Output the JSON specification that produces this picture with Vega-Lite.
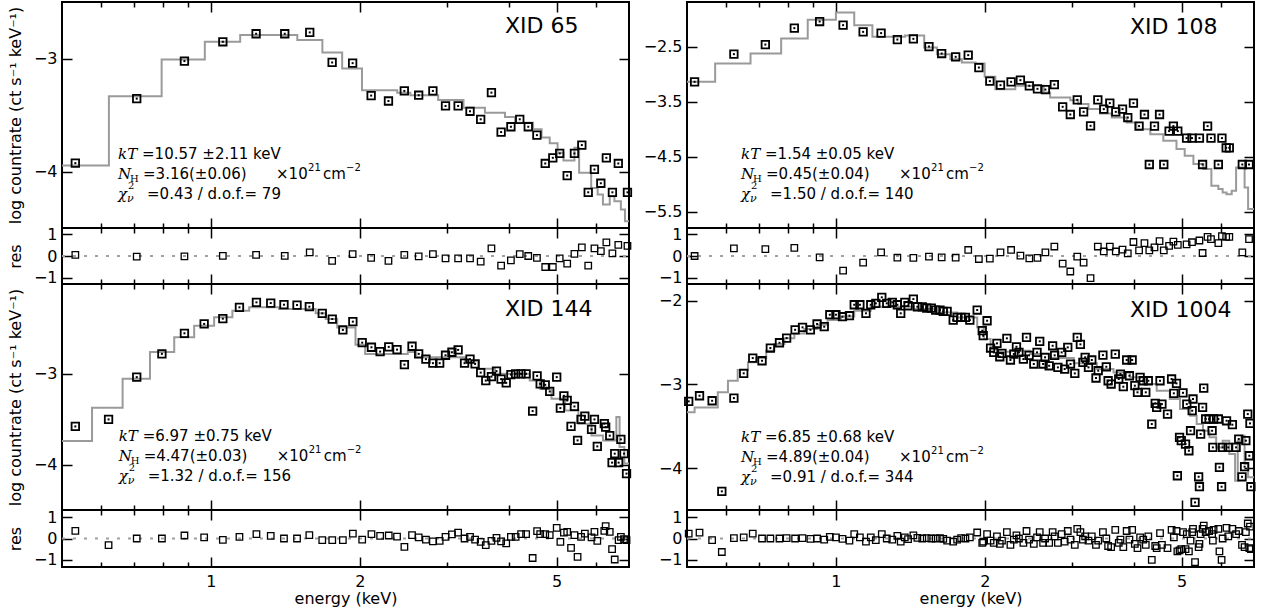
{
"$schema": "https://vega.github.io/schema/vega-lite/v6.json",
"padding": {"left": 6, "top": 0, "right": 8, "bottom": 6},
"background": "white",
"config": {
  "view": {"stroke": "black", "strokeWidth": 2},
  "axis": {"grid": false, "domain": false, "labels": false, "tickSize": -10, "tickColor": "black", "tickWidth": 1.5, "labelFont": "DejaVu Sans", "labelFontSize": 16, "labelColor": "black", "titleFont": "DejaVu Sans", "titleFontSize": 16, "titleFontWeight": "normal", "titleColor": "black"},
  "text": {"font": "DejaVu Sans", "fontSize": 15, "align": "left", "baseline": "middle", "color": "black"}
},
"datasets": {
"d65": [{"E":0.532,"y":-3.926,"r":0.05},{"E":0.708,"y":-3.355,"r":-0.03},{"E":0.884,"y":-3.023,"r":-0.02},{"E":1.057,"y":-2.852,"r":0.01},{"E":1.234,"y":-2.781,"r":0.05},{"E":1.41,"y":-2.781,"r":0.01},{"E":1.584,"y":-2.769,"r":0.17},{"E":1.758,"y":-3.035,"r":-0.23},{"E":1.934,"y":-3.041,"r":0.09},{"E":2.108,"y":-3.328,"r":-0.09},{"E":2.285,"y":-3.376,"r":-0.23},{"E":2.46,"y":-3.287,"r":0.05},{"E":2.63,"y":-3.325,"r":-0.02},{"E":2.81,"y":-3.287,"r":0.09},{"E":2.98,"y":-3.42,"r":-0.11},{"E":3.16,"y":-3.42,"r":-0.11},{"E":3.34,"y":-3.467,"r":-0.11},{"E":3.51,"y":-3.538,"r":-0.26},{"E":3.69,"y":-3.302,"r":0.35},{"E":3.86,"y":-3.651,"r":-0.45},{"E":4.04,"y":-3.604,"r":-0.2},{"E":4.21,"y":-3.538,"r":0.09},{"E":4.38,"y":-3.604,"r":0.0},{"E":4.56,"y":-3.678,"r":-0.09},{"E":4.74,"y":-3.929,"r":-0.51},{"E":4.91,"y":-3.879,"r":-0.51},{"E":5.07,"y":-3.84,"r":-0.11},{"E":5.25,"y":-4.036,"r":-0.35},{"E":5.43,"y":-3.84,"r":0.1},{"E":5.62,"y":-3.766,"r":0.4},{"E":5.79,"y":-4.184,"r":-0.45},{"E":5.96,"y":-3.982,"r":0.35},{"E":6.14,"y":-4.104,"r":0.23},{"E":6.3,"y":-3.879,"r":0.63},{"E":6.48,"y":-4.184,"r":0.12},{"E":6.66,"y":-3.929,"r":0.52},{"E":6.95,"y":-4.184,"r":0.47}],
"m65": [{"E":0.5,"y":-3.947},{"E":0.622,"y":-3.334},{"E":0.795,"y":-3.009},{"E":0.972,"y":-2.852},{"E":1.146,"y":-2.792},{"E":1.495,"y":-2.837},{"E":1.68,"y":-2.947},{"E":1.842,"y":-3.089},{"E":2.02,"y":-3.281},{"E":2.38,"y":-3.302},{"E":2.53,"y":-3.325},{"E":2.88,"y":-3.367},{"E":3.24,"y":-3.435},{"E":3.58,"y":-3.48},{"E":3.93,"y":-3.518},{"E":4.12,"y":-3.568},{"E":4.48,"y":-3.627},{"E":4.66,"y":-3.7},{"E":4.84,"y":-3.75},{"E":5.02,"y":-3.835},{"E":5.16,"y":-3.902},{"E":5.43,"y":-3.79},{"E":5.55,"y":-4.012},{"E":5.87,"y":-4.146},{"E":6.05,"y":-4.204},{"E":6.2,"y":-4.293},{"E":6.4,"y":-4.22},{"E":6.54,"y":-4.264},{"E":6.74,"y":-4.337},{"E":6.87,"y":-4.44},{"E":7.0,"y":-4.44}],
"d108": [{"E":0.518,"y":-3.142,"r":0},{"E":0.622,"y":-2.638,"r":0.35},{"E":0.72,"y":-2.464,"r":0.32},{"E":0.824,"y":-2.165,"r":0.38},{"E":0.927,"y":-2.045,"r":-0.06},{"E":1.034,"y":-2.111,"r":-0.68},{"E":1.135,"y":-2.233,"r":-0.31},{"E":1.234,"y":-2.256,"r":0.17},{"E":1.331,"y":-2.373,"r":-0.08},{"E":1.434,"y":-2.36,"r":-0.09},{"E":1.542,"y":-2.5,"r":-0.03},{"E":1.636,"y":-2.627,"r":-0.06},{"E":1.746,"y":-2.687,"r":-0.08},{"E":1.851,"y":-2.656,"r":0.28},{"E":1.945,"y":-2.882,"r":-0.14},{"E":2.047,"y":-3.129,"r":-0.12},{"E":2.151,"y":-3.202,"r":0.17},{"E":2.26,"y":-3.142,"r":0.28},{"E":2.36,"y":-3.111,"r":0.02},{"E":2.46,"y":-3.215,"r":-0.11},{"E":2.555,"y":-3.269,"r":-0.09},{"E":2.651,"y":-3.282,"r":0.17},{"E":2.764,"y":-3.191,"r":0.44},{"E":2.873,"y":-3.596,"r":-0.35},{"E":2.977,"y":-3.736,"r":-0.72},{"E":3.075,"y":-3.469,"r":-0.03},{"E":3.167,"y":-3.687,"r":-0.31},{"E":3.271,"y":-3.942,"r":-1.03},{"E":3.384,"y":-3.469,"r":0.44},{"E":3.479,"y":-3.638,"r":0.21},{"E":3.578,"y":-3.529,"r":0.44},{"E":3.679,"y":-3.687,"r":0.21},{"E":3.796,"y":-3.638,"r":0.3},{"E":3.89,"y":-3.791,"r":0.12},{"E":3.994,"y":-3.529,"r":0.65},{"E":4.1,"y":-3.947,"r":0.26},{"E":4.204,"y":-3.736,"r":0.6},{"E":4.3,"y":-4.645,"r":0.26},{"E":4.405,"y":-3.947,"r":0.4},{"E":4.51,"y":-3.736,"r":0.69},{"E":4.6,"y":-4.645,"r":0.26},{"E":4.715,"y":-4.038,"r":0.47},{"E":4.81,"y":-3.947,"r":0.67},{"E":4.91,"y":-4.038,"r":0.52},{"E":5.115,"y":-4.165,"r":0.54},{"E":5.245,"y":-4.165,"r":0.64},{"E":5.43,"y":-4.165,"r":0.72},{"E":5.51,"y":-4.645,"r":0.14},{"E":5.64,"y":-3.947,"r":0.89},{"E":5.73,"y":-4.165,"r":0.78},{"E":5.93,"y":-4.645,"r":0.6},{"E":6.03,"y":-4.165,"r":0.92},{"E":6.15,"y":-4.342,"r":0.89},{"E":6.24,"y":-4.342,"r":0.89},{"E":6.63,"y":-4.645,"r":0.17},{"E":6.84,"y":-4.645,"r":0.78}],
"m108": [{"E":0.5,"y":-3.142},{"E":0.57,"y":-2.809},{"E":0.672,"y":-2.627},{"E":0.775,"y":-2.355},{"E":0.877,"y":-2.015},{"E":1.0,"y":-1.882},{"E":1.089,"y":-2.111},{"E":1.185,"y":-2.324},{"E":1.38,"y":-2.3},{"E":1.508,"y":-2.518},{"E":1.6,"y":-2.638},{"E":1.703,"y":-2.729},{"E":1.797,"y":-2.791},{"E":1.916,"y":-2.809},{"E":1.998,"y":-3.051},{"E":2.1,"y":-3.275},{"E":2.305,"y":-3.215},{"E":2.63,"y":-3.336},{"E":2.71,"y":-3.427},{"E":2.977,"y":-3.475},{"E":3.09,"y":-3.547},{"E":3.24,"y":-3.638},{"E":3.42,"y":-3.718},{"E":3.61,"y":-3.791},{"E":3.87,"y":-3.882},{"E":4.05,"y":-4.002},{"E":4.32,"y":-4.093},{"E":4.59,"y":-4.215},{"E":4.88,"y":-4.365},{"E":5.07,"y":-4.487},{"E":5.28,"y":-4.638},{"E":5.53,"y":-4.729},{"E":5.74,"y":-5.033},{"E":5.93,"y":-5.093},{"E":6.05,"y":-5.155},{"E":6.16,"y":-5.184},{"E":6.31,"y":-5.124},{"E":6.44,"y":-4.7},{"E":6.7,"y":-5.064},{"E":6.81,"y":-5.456},{"E":7.0,"y":-5.456}],
"d144": [{"E":0.532,"y":-3.579,"r":0.36},{"E":0.621,"y":-3.502,"r":-0.31},{"E":0.708,"y":-3.036,"r":0},{"E":0.796,"y":-2.78,"r":0},{"E":0.884,"y":-2.553,"r":0.14},{"E":0.969,"y":-2.45,"r":0.05},{"E":1.057,"y":-2.392,"r":-0.06},{"E":1.142,"y":-2.267,"r":0.08},{"E":1.236,"y":-2.212,"r":0.2},{"E":1.321,"y":-2.22,"r":0.12},{"E":1.405,"y":-2.238,"r":0},{"E":1.493,"y":-2.242,"r":0},{"E":1.581,"y":-2.26,"r":0.16},{"E":1.679,"y":-2.333,"r":-0.08},{"E":1.759,"y":-2.396,"r":-0.08},{"E":1.848,"y":-2.516,"r":-0.08},{"E":1.936,"y":-2.425,"r":0.23},{"E":2.022,"y":-2.656,"r":-0.05},{"E":2.111,"y":-2.707,"r":0.2},{"E":2.198,"y":-2.755,"r":0.12},{"E":2.288,"y":-2.703,"r":0.14},{"E":2.378,"y":-2.733,"r":0.09},{"E":2.461,"y":-2.898,"r":-0.39},{"E":2.55,"y":-2.696,"r":0.16},{"E":2.63,"y":-2.78,"r":0.05},{"E":2.72,"y":-2.838,"r":-0.05},{"E":2.81,"y":-2.882,"r":-0.13},{"E":2.9,"y":-2.882,"r":-0.11},{"E":2.98,"y":-2.795,"r":0.08},{"E":3.07,"y":-2.762,"r":0.19},{"E":3.16,"y":-2.736,"r":0.27},{"E":3.256,"y":-2.882,"r":0},{"E":3.34,"y":-2.838,"r":0.08},{"E":3.42,"y":-2.89,"r":-0.05},{"E":3.51,"y":-2.986,"r":-0.16},{"E":3.594,"y":-3.074,"r":-0.31},{"E":3.69,"y":-3.03,"r":-0.11},{"E":3.778,"y":-2.97,"r":0.03},{"E":3.86,"y":-3.058,"r":-0.13},{"E":3.953,"y":-3.099,"r":-0.23},{"E":4.04,"y":-3.008,"r":0.08},{"E":4.13,"y":-3.0,"r":0.08},{"E":4.236,"y":-3.0,"r":0.2},{"E":4.336,"y":-3.0,"r":0.2},{"E":4.47,"y":-3.41,"r":-0.91},{"E":4.564,"y":-3.022,"r":0.34},{"E":4.63,"y":-3.11,"r":0.2},{"E":4.74,"y":-3.121,"r":0.2},{"E":4.84,"y":-3.194,"r":0.16},{"E":5.0,"y":-3.036,"r":0.5},{"E":5.086,"y":-3.377,"r":-0.16},{"E":5.17,"y":-3.242,"r":0.27},{"E":5.25,"y":-3.293,"r":0.31},{"E":5.345,"y":-3.579,"r":-0.44},{"E":5.43,"y":-3.359,"r":0.16},{"E":5.51,"y":-3.733,"r":-0.86},{"E":5.6,"y":-3.502,"r":0.08},{"E":5.7,"y":-3.465,"r":0.23},{"E":5.88,"y":-3.612,"r":0.05},{"E":5.96,"y":-3.502,"r":0.31},{"E":6.04,"y":-3.799,"r":-0.11},{"E":6.24,"y":-3.549,"r":0.36},{"E":6.28,"y":-3.586,"r":0.58},{"E":6.4,"y":-3.681,"r":0.31},{"E":6.47,"y":-3.978,"r":-0.5},{"E":6.55,"y":-3.879,"r":-0.98},{"E":6.67,"y":-3.978,"r":-0.08},{"E":6.74,"y":-3.722,"r":0.08},{"E":6.84,"y":-3.879,"r":-0.03},{"E":6.92,"y":-4.099,"r":-0.08}],
"m144": [{"E":0.5,"y":-3.74},{"E":0.575,"y":-3.374},{"E":0.663,"y":-3.055},{"E":0.753,"y":-2.76},{"E":0.843,"y":-2.597},{"E":0.925,"y":-2.47},{"E":1.015,"y":-2.377},{"E":1.105,"y":-2.305},{"E":1.195,"y":-2.267},{"E":1.373,"y":-2.286},{"E":1.628,"y":-2.333},{"E":1.706,"y":-2.396},{"E":1.8,"y":-2.49},{"E":1.96,"y":-2.678},{"E":2.05,"y":-2.78},{"E":2.5,"y":-2.76},{"E":2.6,"y":-2.817},{"E":3.26,"y":-2.86},{"E":3.47,"y":-2.945},{"E":3.75,"y":-3.0},{"E":4.41,"y":-3.073},{"E":4.62,"y":-3.165},{"E":4.88,"y":-3.275},{"E":5.2,"y":-3.403},{"E":5.53,"y":-3.549},{"E":5.88,"y":-3.678},{"E":6.2,"y":-3.733},{"E":6.6,"y":-3.476},{"E":6.7,"y":-3.805},{"E":6.85,"y":-3.989},{"E":7.0,"y":-3.989}],
"d1004": [{"E":0.504,"y":-3.202,"r":0.23},{"E":0.53,"y":-3.135,"r":0.27},{"E":0.562,"y":-3.195,"r":-0.08},{"E":0.588,"y":-4.277,"r":-0.63},{"E":0.622,"y":-3.163,"r":0.02},{"E":0.651,"y":-2.867,"r":0.05},{"E":0.679,"y":-2.685,"r":0.23},{"E":0.709,"y":-2.717,"r":0.0},{"E":0.737,"y":-2.565,"r":0.0},{"E":0.769,"y":-2.502,"r":0.0},{"E":0.795,"y":-2.446,"r":0.02},{"E":0.827,"y":-2.347,"r":0.0},{"E":0.856,"y":-2.318,"r":0.02},{"E":0.888,"y":-2.347,"r":-0.02},{"E":0.916,"y":-2.278,"r":0.0},{"E":0.947,"y":-2.31,"r":-0.05},{"E":0.972,"y":-2.167,"r":0.08},{"E":1.0,"y":-2.167,"r":0.05},{"E":1.031,"y":-2.191,"r":-0.02},{"E":1.065,"y":-2.179,"r":-0.1},{"E":1.089,"y":-2.048,"r":0.2},{"E":1.118,"y":-2.048,"r":0.05},{"E":1.15,"y":-2.15,"r":-0.15},{"E":1.176,"y":-2.048,"r":0.05},{"E":1.204,"y":-2.031,"r":-0.08},{"E":1.238,"y":-1.959,"r":0.2},{"E":1.267,"y":-2.031,"r":0.0},{"E":1.3,"y":-2.019,"r":-0.05},{"E":1.331,"y":-2.048,"r":0.12},{"E":1.352,"y":-2.15,"r":-0.15},{"E":1.378,"y":-2.019,"r":0.05},{"E":1.399,"y":-2.06,"r":-0.03},{"E":1.434,"y":-1.98,"r":0.15},{"E":1.461,"y":-2.072,"r":0.03},{"E":1.495,"y":-2.072,"r":0.0},{"E":1.526,"y":-2.087,"r":0.02},{"E":1.559,"y":-2.087,"r":0.0},{"E":1.591,"y":-2.111,"r":0.0},{"E":1.623,"y":-2.111,"r":0.02},{"E":1.648,"y":-2.127,"r":-0.02},{"E":1.678,"y":-2.127,"r":-0.1},{"E":1.726,"y":-2.231,"r":-0.15},{"E":1.758,"y":-2.199,"r":-0.05},{"E":1.791,"y":-2.199,"r":0.02},{"E":1.827,"y":-2.199,"r":0.0},{"E":1.865,"y":-2.231,"r":0.05},{"E":1.93,"y":-2.111,"r":0.28},{"E":1.976,"y":-2.358,"r":-0.2},{"E":1.985,"y":-2.418,"r":-0.15},{"E":2.021,"y":-2.239,"r":0.2},{"E":2.054,"y":-2.565,"r":-0.1},{"E":2.085,"y":-2.617,"r":-0.2},{"E":2.116,"y":-2.509,"r":0.1},{"E":2.144,"y":-2.669,"r":-0.25},{"E":2.166,"y":-2.629,"r":-0.1},{"E":2.216,"y":-2.449,"r":0.3},{"E":2.253,"y":-2.708,"r":-0.3},{"E":2.289,"y":-2.637,"r":-0.05},{"E":2.317,"y":-2.55,"r":0.15},{"E":2.344,"y":-2.617,"r":0.0},{"E":2.393,"y":-2.697,"r":-0.2},{"E":2.428,"y":-2.438,"r":0.35},{"E":2.457,"y":-2.652,"r":-0.05},{"E":2.512,"y":-2.756,"r":-0.25},{"E":2.55,"y":-2.617,"r":0.05},{"E":2.582,"y":-2.485,"r":0.3},{"E":2.623,"y":-2.756,"r":-0.2},{"E":2.647,"y":-2.676,"r":0.0},{"E":2.698,"y":-2.777,"r":-0.2},{"E":2.742,"y":-2.538,"r":0.3},{"E":2.768,"y":-2.652,"r":0.1},{"E":2.81,"y":-2.796,"r":-0.2},{"E":2.86,"y":-2.617,"r":0.2},{"E":2.9,"y":-2.816,"r":-0.15},{"E":2.942,"y":-2.557,"r":0.35},{"E":2.98,"y":-2.756,"r":-0.05},{"E":3.04,"y":-2.868,"r":-0.3},{"E":3.075,"y":-2.437,"r":0.45},{"E":3.12,"y":-2.521,"r":0.3},{"E":3.157,"y":-2.736,"r":-0.05},{"E":3.19,"y":-2.676,"r":0.1},{"E":3.24,"y":-2.796,"r":-0.1},{"E":3.29,"y":-2.708,"r":0.1},{"E":3.355,"y":-2.923,"r":-0.3},{"E":3.39,"y":-2.836,"r":-0.1},{"E":3.465,"y":-2.649,"r":0.3},{"E":3.52,"y":-2.789,"r":0.0},{"E":3.55,"y":-2.956,"r":-0.35},{"E":3.6,"y":-2.995,"r":-0.4},{"E":3.67,"y":-2.637,"r":0.4},{"E":3.73,"y":-2.935,"r":-0.2},{"E":3.76,"y":-2.876,"r":-0.05},{"E":3.81,"y":-3.027,"r":-0.4},{"E":3.87,"y":-2.708,"r":0.35},{"E":3.92,"y":-2.896,"r":-0.05},{"E":3.97,"y":-2.708,"r":0.4},{"E":4.02,"y":-3.015,"r":-0.25},{"E":4.07,"y":-3.094,"r":-0.45},{"E":4.12,"y":-2.915,"r":0.05},{"E":4.18,"y":-2.956,"r":-0.05},{"E":4.23,"y":-3.094,"r":-0.3},{"E":4.28,"y":-2.956,"r":0.1},{"E":4.35,"y":-3.473,"r":-1.0},{"E":4.42,"y":-3.226,"r":-0.35},{"E":4.45,"y":-3.274,"r":-0.45},{"E":4.52,"y":-2.956,"r":0.25},{"E":4.56,"y":-3.235,"r":-0.3},{"E":4.68,"y":-3.354,"r":-0.45},{"E":4.77,"y":-2.935,"r":0.4},{"E":4.82,"y":-3.106,"r":0.05},{"E":4.88,"y":-2.987,"r":0.35},{"E":4.9,"y":-4.091,"r":-0.6},{"E":4.95,"y":-3.632,"r":-0.55},{"E":4.99,"y":-3.672,"r":-0.5},{"E":5.03,"y":-3.1,"r":0.3},{"E":5.09,"y":-3.712,"r":-0.5},{"E":5.12,"y":-3.235,"r":0.2},{"E":5.17,"y":-3.792,"r":-0.6},{"E":5.21,"y":-3.553,"r":-0.1},{"E":5.25,"y":-3.314,"r":0.3},{"E":5.27,"y":-3.174,"r":0.45},{"E":5.32,"y":-4.409,"r":-1.1},{"E":5.41,"y":-4.103,"r":-0.4},{"E":5.43,"y":-4.222,"r":-0.25},{"E":5.46,"y":-3.593,"r":0.2},{"E":5.51,"y":-3.274,"r":0.45},{"E":5.54,"y":-3.043,"r":0.6},{"E":5.59,"y":-3.413,"r":0.3},{"E":5.68,"y":-3.413,"r":0.35},{"E":5.76,"y":-3.553,"r":0.2},{"E":5.78,"y":-3.752,"r":-0.1},{"E":5.8,"y":-3.413,"r":0.4},{"E":5.93,"y":-3.413,"r":0.45},{"E":5.96,"y":-3.99,"r":-0.6},{"E":6.02,"y":-4.222,"r":-1.0},{"E":6.05,"y":-3.752,"r":0.0},{"E":6.16,"y":-3.434,"r":0.5},{"E":6.21,"y":-3.752,"r":0.1},{"E":6.33,"y":-3.481,"r":0.45},{"E":6.44,"y":-3.752,"r":0.2},{"E":6.52,"y":-3.652,"r":0.35},{"E":6.62,"y":-4.103,"r":-0.3},{"E":6.7,"y":-3.983,"r":-0.4},{"E":6.74,"y":-3.672,"r":0.3},{"E":6.8,"y":-3.354,"r":0.7},{"E":6.85,"y":-3.852,"r":-0.45},{"E":6.87,"y":-3.465,"r":0.55},{"E":6.9,"y":-4.222,"r":-0.5}],
"m1004": [{"E":0.5,"y":-3.333},{"E":0.518,"y":-3.274},{"E":0.577,"y":-3.094},{"E":0.605,"y":-2.956},{"E":0.633,"y":-2.828},{"E":0.664,"y":-2.736},{"E":0.69,"y":-2.685},{"E":0.723,"y":-2.597},{"E":0.751,"y":-2.517},{"E":0.787,"y":-2.449},{"E":0.824,"y":-2.39},{"E":0.863,"y":-2.338},{"E":0.918,"y":-2.287},{"E":0.962,"y":-2.231},{"E":1.023,"y":-2.187},{"E":1.089,"y":-2.12},{"E":1.176,"y":-2.072},{"E":1.438,"y":-2.099},{"E":1.603,"y":-2.139},{"E":1.758,"y":-2.199},{"E":1.93,"y":-2.318},{"E":1.991,"y":-2.458},{"E":2.054,"y":-2.557},{"E":2.116,"y":-2.609},{"E":2.253,"y":-2.597},{"E":2.471,"y":-2.637},{"E":2.71,"y":-2.685},{"E":3.025,"y":-2.748},{"E":3.369,"y":-2.816},{"E":3.64,"y":-2.856},{"E":3.932,"y":-2.915},{"E":4.18,"y":-2.995},{"E":4.45,"y":-3.075},{"E":4.73,"y":-3.174},{"E":4.96,"y":-3.294},{"E":5.2,"y":-3.374},{"E":5.36,"y":-3.473},{"E":5.52,"y":-3.553},{"E":5.69,"y":-3.632},{"E":5.87,"y":-3.752},{"E":6.05,"y":-3.672},{"E":6.24,"y":-3.832},{"E":6.41,"y":-4.151},{"E":6.49,"y":-3.672},{"E":6.6,"y":-3.613},{"E":6.7,"y":-3.951},{"E":6.81,"y":-4.11},{"E":7.0,"y":-4.11}]
},
"columns": 2,
"spacing": {"row": 0, "column": 58},
"bounds": "flush",
"concat": [
   {"width": 567, "height": 226, "data": {"name": "d65"},
    "resolve": {"axis": {"x": "independent", "y": "independent"}},
    "layer": [
     {"data": {"name": "m65"}, "mark": {"type": "line", "interpolate": "step-after", "color": "#9a9a9a", "strokeWidth": 2},
      "encoding": {"x": {"field": "E", "type": "quantitative", "scale": {"type": "log", "domain": [0.5, 7], "nice": false}, "axis": {"orient": "bottom", "values": [1, 2, 5], "title": null}},
                   "y": {"field": "y", "type": "quantitative", "scale": {"domain": [-4.5, -2.5], "nice": false, "zero": false}, "axis": {"orient": "left", "values": [-3, -4], "title": null}}}},
     {"mark": {"type": "point", "shape": "square", "size": 56, "color": "black", "strokeWidth": 1.8, "opacity": 1},
      "encoding": {"x": {"field": "E", "type": "quantitative", "scale": {"type": "log", "domain": [0.5, 7], "nice": false}, "axis": {"orient": "bottom", "values": [0.6, 0.7, 0.8, 0.9, 3, 4, 6], "tickSize": -5, "title": null}},
                   "y": {"field": "y", "type": "quantitative", "scale": {"domain": [-4.5, -2.5], "nice": false, "zero": false}, "axis": {"orient": "left", "values": [-3, -4], "format": "d", "ticks": false, "tickSize": 0, "labels": true, "labelPadding": 5, "title": "log countrate (ct s⁻¹ keV⁻¹)", "titlePadding": 10}}}},
     {"mark": {"type": "point", "shape": "square", "size": 4, "filled": true, "color": "black", "opacity": 1},
      "encoding": {"x": {"field": "E", "type": "quantitative", "scale": {"type": "log", "domain": [0.5, 7], "nice": false}, "axis": {"orient": "top", "values": [1, 2, 5], "title": null}},
                   "y": {"field": "y", "type": "quantitative", "scale": {"domain": [-4.5, -2.5], "nice": false, "zero": false}, "axis": {"orient": "right", "values": [-3, -4], "title": null}}}},
     {"data": {"values": [{}]}, "mark": {"type": "text", "text": "XID 65", "fontSize": 22},
      "encoding": {"x": {"datum": 3.93, "type": "quantitative", "scale": {"type": "log", "domain": [0.5, 7], "nice": false}, "axis": {"orient": "top", "values": [0.6, 0.7, 0.8, 0.9, 3, 4, 6], "tickSize": -5, "title": null}},
                   "y": {"datum": -2.712, "type": "quantitative", "scale": {"domain": [-4.5, -2.5], "nice": false, "zero": false}, "axis": null}}},
     {"data": {"values": [{}]},
      "encoding": {"x": {"datum": 0.649, "type": "quantitative", "scale": {"type": "log", "domain": [0.5, 7], "nice": false}, "axis": null},
                   "y": {"datum": -3.849, "type": "quantitative", "scale": {"domain": [-4.5, -2.5], "nice": false, "zero": false}, "axis": null}},
      "layer": [
       {"mark": {"type": "text", "text": "kT", "font": "DejaVu Serif", "fontStyle": "italic"}},
       {"mark": {"type": "text", "text": "=10.57 ±2.11 keV", "dx": 24}},
       {"mark": {"type": "text", "text": "N", "font": "DejaVu Serif", "fontStyle": "italic", "dy": 20}},
       {"mark": {"type": "text", "text": "H", "font": "DejaVu Serif", "fontSize": 10, "dx": 12, "dy": 25}},
       {"mark": {"type": "text", "text": "=3.16(±0.06)", "dx": 25, "dy": 20}},
       {"mark": {"type": "text", "text": "×10", "dx": 158, "dy": 20}},
       {"mark": {"type": "text", "text": "21", "fontSize": 10, "dx": 190, "dy": 14}},
       {"mark": {"type": "text", "text": "cm", "dx": 205, "dy": 20}},
       {"mark": {"type": "text", "text": "−2", "fontSize": 10, "dx": 228, "dy": 14}},
       {"mark": {"type": "text", "text": "χ", "font": "DejaVu Serif", "fontStyle": "italic", "dy": 40}},
       {"mark": {"type": "text", "text": "2", "font": "DejaVu Serif", "fontSize": 10, "dx": 10, "dy": 32}},
       {"mark": {"type": "text", "text": "ν", "font": "DejaVu Serif", "fontStyle": "italic", "fontSize": 11, "dx": 9, "dy": 45}},
       {"mark": {"type": "text", "text": "=0.43 / d.o.f.= 79", "dx": 29, "dy": 40}}
      ]}
    ]},
   {"width": 567, "height": 226, "data": {"name": "d108"},
    "resolve": {"axis": {"x": "independent", "y": "independent"}},
    "layer": [
     {"data": {"name": "m108"}, "mark": {"type": "line", "interpolate": "step-after", "color": "#9a9a9a", "strokeWidth": 2},
      "encoding": {"x": {"field": "E", "type": "quantitative", "scale": {"type": "log", "domain": [0.5, 7], "nice": false}, "axis": {"orient": "bottom", "values": [1, 2, 5], "title": null}},
                   "y": {"field": "y", "type": "quantitative", "scale": {"domain": [-5.8, -1.69], "nice": false, "zero": false}, "axis": {"orient": "left", "values": [-2.5, -3.5, -4.5, -5.5], "title": null}}}},
     {"mark": {"type": "point", "shape": "square", "size": 56, "color": "black", "strokeWidth": 1.8, "opacity": 1},
      "encoding": {"x": {"field": "E", "type": "quantitative", "scale": {"type": "log", "domain": [0.5, 7], "nice": false}, "axis": {"orient": "bottom", "values": [0.6, 0.7, 0.8, 0.9, 3, 4, 6], "tickSize": -5, "title": null}},
                   "y": {"field": "y", "type": "quantitative", "scale": {"domain": [-5.8, -1.69], "nice": false, "zero": false}, "axis": {"orient": "left", "values": [-2.5, -3.5, -4.5, -5.5], "format": ".1f", "ticks": false, "tickSize": 0, "labels": true, "labelPadding": 5, "title": null}}}},
     {"mark": {"type": "point", "shape": "square", "size": 4, "filled": true, "color": "black", "opacity": 1},
      "encoding": {"x": {"field": "E", "type": "quantitative", "scale": {"type": "log", "domain": [0.5, 7], "nice": false}, "axis": {"orient": "top", "values": [1, 2, 5], "title": null}},
                   "y": {"field": "y", "type": "quantitative", "scale": {"domain": [-5.8, -1.69], "nice": false, "zero": false}, "axis": {"orient": "right", "values": [-2.5, -3.5, -4.5, -5.5], "title": null}}}},
     {"data": {"values": [{}]}, "mark": {"type": "text", "text": "XID 108", "fontSize": 22},
      "encoding": {"x": {"datum": 3.93, "type": "quantitative", "scale": {"type": "log", "domain": [0.5, 7], "nice": false}, "axis": {"orient": "top", "values": [0.6, 0.7, 0.8, 0.9, 3, 4, 6], "tickSize": -5, "title": null}},
                   "y": {"datum": -2.136, "type": "quantitative", "scale": {"domain": [-5.8, -1.69], "nice": false, "zero": false}, "axis": null}}},
     {"data": {"values": [{}]},
      "encoding": {"x": {"datum": 0.643, "type": "quantitative", "scale": {"type": "log", "domain": [0.5, 7], "nice": false}, "axis": null},
                   "y": {"datum": -4.456, "type": "quantitative", "scale": {"domain": [-5.8, -1.69], "nice": false, "zero": false}, "axis": null}},
      "layer": [
       {"mark": {"type": "text", "text": "kT", "font": "DejaVu Serif", "fontStyle": "italic"}},
       {"mark": {"type": "text", "text": "=1.54 ±0.05 keV", "dx": 24}},
       {"mark": {"type": "text", "text": "N", "font": "DejaVu Serif", "fontStyle": "italic", "dy": 20}},
       {"mark": {"type": "text", "text": "H", "font": "DejaVu Serif", "fontSize": 10, "dx": 12, "dy": 25}},
       {"mark": {"type": "text", "text": "=0.45(±0.04)", "dx": 25, "dy": 20}},
       {"mark": {"type": "text", "text": "×10", "dx": 158, "dy": 20}},
       {"mark": {"type": "text", "text": "21", "fontSize": 10, "dx": 190, "dy": 14}},
       {"mark": {"type": "text", "text": "cm", "dx": 205, "dy": 20}},
       {"mark": {"type": "text", "text": "−2", "fontSize": 10, "dx": 228, "dy": 14}},
       {"mark": {"type": "text", "text": "χ", "font": "DejaVu Serif", "fontStyle": "italic", "dy": 40}},
       {"mark": {"type": "text", "text": "2", "font": "DejaVu Serif", "fontSize": 10, "dx": 10, "dy": 32}},
       {"mark": {"type": "text", "text": "ν", "font": "DejaVu Serif", "fontStyle": "italic", "fontSize": 11, "dx": 9, "dy": 45}},
       {"mark": {"type": "text", "text": "=1.50 / d.o.f.= 140", "dx": 29, "dy": 40}}
      ]}
    ]},
   {"width": 567, "height": 56, "data": {"name": "d65"},
    "resolve": {"axis": {"x": "independent", "y": "independent"}},
    "layer": [
     {"data": {"values": [{}]}, "mark": {"type": "rule", "color": "#a0a0a0", "strokeWidth": 2, "strokeDash": [3, 8]},
      "encoding": {"x": {"datum": 0.5, "type": "quantitative", "scale": {"type": "log", "domain": [0.5, 7], "nice": false}, "axis": {"orient": "bottom", "values": [1, 2, 5], "title": null}},
                   "x2": {"datum": 7},
                   "y": {"datum": 0, "type": "quantitative", "scale": {"domain": [-1.3, 1.3], "nice": false, "zero": false}, "axis": {"orient": "left", "values": [-1, 0, 1], "title": null}}}},
     {"mark": {"type": "point", "shape": "square", "size": 42, "color": "black", "strokeWidth": 1.3, "opacity": 1},
      "encoding": {"x": {"field": "E", "type": "quantitative", "scale": {"type": "log", "domain": [0.5, 7], "nice": false}, "axis": {"orient": "bottom", "values": [0.6, 0.7, 0.8, 0.9, 3, 4, 6], "tickSize": -5, "title": null}},
                   "y": {"field": "r", "type": "quantitative", "scale": {"domain": [-1.3, 1.3], "nice": false, "zero": false}, "axis": {"orient": "left", "values": [-1, 0, 1], "format": "d", "ticks": false, "tickSize": 0, "labels": true, "labelPadding": 5, "title": "res", "titlePadding": 10}}}},
     {"data": {"values": [{}]}, "mark": {"type": "point", "opacity": 0},
      "encoding": {"x": {"datum": 1, "type": "quantitative", "scale": {"type": "log", "domain": [0.5, 7], "nice": false}, "axis": {"orient": "top", "values": [1, 2, 5], "title": null}},
                   "y": {"datum": 0, "type": "quantitative", "scale": {"domain": [-1.3, 1.3], "nice": false, "zero": false}, "axis": {"orient": "right", "values": [-1, 0, 1], "title": null}}}},
     {"data": {"values": [{}]}, "mark": {"type": "point", "opacity": 0},
      "encoding": {"x": {"datum": 1, "type": "quantitative", "scale": {"type": "log", "domain": [0.5, 7], "nice": false}, "axis": {"orient": "top", "values": [0.6, 0.7, 0.8, 0.9, 3, 4, 6], "tickSize": -5, "title": null}},
                   "y": {"datum": 0, "type": "quantitative", "scale": {"domain": [-1.3, 1.3], "nice": false, "zero": false}, "axis": null}}}
    ]},
   {"width": 567, "height": 56, "data": {"name": "d108"},
    "resolve": {"axis": {"x": "independent", "y": "independent"}},
    "layer": [
     {"data": {"values": [{}]}, "mark": {"type": "rule", "color": "#a0a0a0", "strokeWidth": 2, "strokeDash": [3, 8]},
      "encoding": {"x": {"datum": 0.5, "type": "quantitative", "scale": {"type": "log", "domain": [0.5, 7], "nice": false}, "axis": {"orient": "bottom", "values": [1, 2, 5], "title": null}},
                   "x2": {"datum": 7},
                   "y": {"datum": 0, "type": "quantitative", "scale": {"domain": [-1.3, 1.3], "nice": false, "zero": false}, "axis": {"orient": "left", "values": [-1, 0, 1], "title": null}}}},
     {"mark": {"type": "point", "shape": "square", "size": 42, "color": "black", "strokeWidth": 1.3, "opacity": 1},
      "encoding": {"x": {"field": "E", "type": "quantitative", "scale": {"type": "log", "domain": [0.5, 7], "nice": false}, "axis": {"orient": "bottom", "values": [0.6, 0.7, 0.8, 0.9, 3, 4, 6], "tickSize": -5, "title": null}},
                   "y": {"field": "r", "type": "quantitative", "scale": {"domain": [-1.3, 1.3], "nice": false, "zero": false}, "axis": {"orient": "left", "values": [-1, 0, 1], "format": "d", "ticks": false, "tickSize": 0, "labels": true, "labelPadding": 5, "title": null}}}},
     {"data": {"values": [{}]}, "mark": {"type": "point", "opacity": 0},
      "encoding": {"x": {"datum": 1, "type": "quantitative", "scale": {"type": "log", "domain": [0.5, 7], "nice": false}, "axis": {"orient": "top", "values": [1, 2, 5], "title": null}},
                   "y": {"datum": 0, "type": "quantitative", "scale": {"domain": [-1.3, 1.3], "nice": false, "zero": false}, "axis": {"orient": "right", "values": [-1, 0, 1], "title": null}}}},
     {"data": {"values": [{}]}, "mark": {"type": "point", "opacity": 0},
      "encoding": {"x": {"datum": 1, "type": "quantitative", "scale": {"type": "log", "domain": [0.5, 7], "nice": false}, "axis": {"orient": "top", "values": [0.6, 0.7, 0.8, 0.9, 3, 4, 6], "tickSize": -5, "title": null}},
                   "y": {"datum": 0, "type": "quantitative", "scale": {"domain": [-1.3, 1.3], "nice": false, "zero": false}, "axis": null}}}
    ]},
   {"width": 567, "height": 226, "data": {"name": "d144"},
    "resolve": {"axis": {"x": "independent", "y": "independent"}},
    "layer": [
     {"data": {"name": "m144"}, "mark": {"type": "line", "interpolate": "step-after", "color": "#9a9a9a", "strokeWidth": 2},
      "encoding": {"x": {"field": "E", "type": "quantitative", "scale": {"type": "log", "domain": [0.5, 7], "nice": false}, "axis": {"orient": "bottom", "values": [1, 2, 5], "title": null}},
                   "y": {"field": "y", "type": "quantitative", "scale": {"domain": [-4.5, -2.01], "nice": false, "zero": false}, "axis": {"orient": "left", "values": [-3, -4], "title": null}}}},
     {"mark": {"type": "point", "shape": "square", "size": 56, "color": "black", "strokeWidth": 1.8, "opacity": 1},
      "encoding": {"x": {"field": "E", "type": "quantitative", "scale": {"type": "log", "domain": [0.5, 7], "nice": false}, "axis": {"orient": "bottom", "values": [0.6, 0.7, 0.8, 0.9, 3, 4, 6], "tickSize": -5, "title": null}},
                   "y": {"field": "y", "type": "quantitative", "scale": {"domain": [-4.5, -2.01], "nice": false, "zero": false}, "axis": {"orient": "left", "values": [-3, -4], "format": "d", "ticks": false, "tickSize": 0, "labels": true, "labelPadding": 5, "title": "log countrate (ct s⁻¹ keV⁻¹)", "titlePadding": 10}}}},
     {"mark": {"type": "point", "shape": "square", "size": 4, "filled": true, "color": "black", "opacity": 1},
      "encoding": {"x": {"field": "E", "type": "quantitative", "scale": {"type": "log", "domain": [0.5, 7], "nice": false}, "axis": {"orient": "top", "values": [1, 2, 5], "title": null}},
                   "y": {"field": "y", "type": "quantitative", "scale": {"domain": [-4.5, -2.01], "nice": false, "zero": false}, "axis": {"orient": "right", "values": [-3, -4], "title": null}}}},
     {"data": {"values": [{}]}, "mark": {"type": "text", "text": "XID 144", "fontSize": 22},
      "encoding": {"x": {"datum": 3.93, "type": "quantitative", "scale": {"type": "log", "domain": [0.5, 7], "nice": false}, "axis": {"orient": "top", "values": [0.6, 0.7, 0.8, 0.9, 3, 4, 6], "tickSize": -5, "title": null}},
                   "y": {"datum": -2.286, "type": "quantitative", "scale": {"domain": [-4.5, -2.01], "nice": false, "zero": false}, "axis": null}}},
     {"data": {"values": [{}]},
      "encoding": {"x": {"datum": 0.651, "type": "quantitative", "scale": {"type": "log", "domain": [0.5, 7], "nice": false}, "axis": null},
                   "y": {"datum": -3.689, "type": "quantitative", "scale": {"domain": [-4.5, -2.01], "nice": false, "zero": false}, "axis": null}},
      "layer": [
       {"mark": {"type": "text", "text": "kT", "font": "DejaVu Serif", "fontStyle": "italic"}},
       {"mark": {"type": "text", "text": "=6.97 ±0.75 keV", "dx": 24}},
       {"mark": {"type": "text", "text": "N", "font": "DejaVu Serif", "fontStyle": "italic", "dy": 20}},
       {"mark": {"type": "text", "text": "H", "font": "DejaVu Serif", "fontSize": 10, "dx": 12, "dy": 25}},
       {"mark": {"type": "text", "text": "=4.47(±0.03)", "dx": 25, "dy": 20}},
       {"mark": {"type": "text", "text": "×10", "dx": 158, "dy": 20}},
       {"mark": {"type": "text", "text": "21", "fontSize": 10, "dx": 190, "dy": 14}},
       {"mark": {"type": "text", "text": "cm", "dx": 205, "dy": 20}},
       {"mark": {"type": "text", "text": "−2", "fontSize": 10, "dx": 228, "dy": 14}},
       {"mark": {"type": "text", "text": "χ", "font": "DejaVu Serif", "fontStyle": "italic", "dy": 40}},
       {"mark": {"type": "text", "text": "2", "font": "DejaVu Serif", "fontSize": 10, "dx": 10, "dy": 32}},
       {"mark": {"type": "text", "text": "ν", "font": "DejaVu Serif", "fontStyle": "italic", "fontSize": 11, "dx": 9, "dy": 45}},
       {"mark": {"type": "text", "text": "=1.32 / d.o.f.= 156", "dx": 29, "dy": 40}}
      ]}
    ]},
   {"width": 567, "height": 226, "data": {"name": "d1004"},
    "resolve": {"axis": {"x": "independent", "y": "independent"}},
    "layer": [
     {"data": {"name": "m1004"}, "mark": {"type": "line", "interpolate": "step-after", "color": "#9a9a9a", "strokeWidth": 2},
      "encoding": {"x": {"field": "E", "type": "quantitative", "scale": {"type": "log", "domain": [0.5, 7], "nice": false}, "axis": {"orient": "bottom", "values": [1, 2, 5], "title": null}},
                   "y": {"field": "y", "type": "quantitative", "scale": {"domain": [-4.5, -1.8], "nice": false, "zero": false}, "axis": {"orient": "left", "values": [-2, -3, -4], "title": null}}}},
     {"mark": {"type": "point", "shape": "square", "size": 56, "color": "black", "strokeWidth": 1.8, "opacity": 1},
      "encoding": {"x": {"field": "E", "type": "quantitative", "scale": {"type": "log", "domain": [0.5, 7], "nice": false}, "axis": {"orient": "bottom", "values": [0.6, 0.7, 0.8, 0.9, 3, 4, 6], "tickSize": -5, "title": null}},
                   "y": {"field": "y", "type": "quantitative", "scale": {"domain": [-4.5, -1.8], "nice": false, "zero": false}, "axis": {"orient": "left", "values": [-2, -3, -4], "format": "d", "ticks": false, "tickSize": 0, "labels": true, "labelPadding": 5, "title": null}}}},
     {"mark": {"type": "point", "shape": "square", "size": 4, "filled": true, "color": "black", "opacity": 1},
      "encoding": {"x": {"field": "E", "type": "quantitative", "scale": {"type": "log", "domain": [0.5, 7], "nice": false}, "axis": {"orient": "top", "values": [1, 2, 5], "title": null}},
                   "y": {"field": "y", "type": "quantitative", "scale": {"domain": [-4.5, -1.8], "nice": false, "zero": false}, "axis": {"orient": "right", "values": [-2, -3, -4], "title": null}}}},
     {"data": {"values": [{}]}, "mark": {"type": "text", "text": "XID 1004", "fontSize": 22},
      "encoding": {"x": {"datum": 3.93, "type": "quantitative", "scale": {"type": "log", "domain": [0.5, 7], "nice": false}, "axis": {"orient": "top", "values": [0.6, 0.7, 0.8, 0.9, 3, 4, 6], "tickSize": -5, "title": null}},
                   "y": {"datum": -2.108, "type": "quantitative", "scale": {"domain": [-4.5, -1.8], "nice": false, "zero": false}, "axis": null}}},
     {"data": {"values": [{}]},
      "encoding": {"x": {"datum": 0.643, "type": "quantitative", "scale": {"type": "log", "domain": [0.5, 7], "nice": false}, "axis": null},
                   "y": {"datum": -3.626, "type": "quantitative", "scale": {"domain": [-4.5, -1.8], "nice": false, "zero": false}, "axis": null}},
      "layer": [
       {"mark": {"type": "text", "text": "kT", "font": "DejaVu Serif", "fontStyle": "italic"}},
       {"mark": {"type": "text", "text": "=6.85 ±0.68 keV", "dx": 24}},
       {"mark": {"type": "text", "text": "N", "font": "DejaVu Serif", "fontStyle": "italic", "dy": 20}},
       {"mark": {"type": "text", "text": "H", "font": "DejaVu Serif", "fontSize": 10, "dx": 12, "dy": 25}},
       {"mark": {"type": "text", "text": "=4.89(±0.04)", "dx": 25, "dy": 20}},
       {"mark": {"type": "text", "text": "×10", "dx": 158, "dy": 20}},
       {"mark": {"type": "text", "text": "21", "fontSize": 10, "dx": 190, "dy": 14}},
       {"mark": {"type": "text", "text": "cm", "dx": 205, "dy": 20}},
       {"mark": {"type": "text", "text": "−2", "fontSize": 10, "dx": 228, "dy": 14}},
       {"mark": {"type": "text", "text": "χ", "font": "DejaVu Serif", "fontStyle": "italic", "dy": 40}},
       {"mark": {"type": "text", "text": "2", "font": "DejaVu Serif", "fontSize": 10, "dx": 10, "dy": 32}},
       {"mark": {"type": "text", "text": "ν", "font": "DejaVu Serif", "fontStyle": "italic", "fontSize": 11, "dx": 9, "dy": 45}},
       {"mark": {"type": "text", "text": "=0.91 / d.o.f.= 344", "dx": 29, "dy": 40}}
      ]}
    ]},
   {"width": 567, "height": 57, "data": {"name": "d144"},
    "resolve": {"axis": {"x": "independent", "y": "independent"}},
    "layer": [
     {"data": {"values": [{}]}, "mark": {"type": "rule", "color": "#a0a0a0", "strokeWidth": 2, "strokeDash": [3, 8]},
      "encoding": {"x": {"datum": 0.5, "type": "quantitative", "scale": {"type": "log", "domain": [0.5, 7], "nice": false}, "axis": {"orient": "bottom", "values": [1, 2, 5], "title": null}},
                   "x2": {"datum": 7},
                   "y": {"datum": 0, "type": "quantitative", "scale": {"domain": [-1.33, 1.33], "nice": false, "zero": false}, "axis": {"orient": "left", "values": [-1, 0, 1], "title": null}}}},
     {"mark": {"type": "point", "shape": "square", "size": 42, "color": "black", "strokeWidth": 1.3, "opacity": 1},
      "encoding": {"x": {"field": "E", "type": "quantitative", "scale": {"type": "log", "domain": [0.5, 7], "nice": false}, "axis": {"orient": "bottom", "values": [0.6, 0.7, 0.8, 0.9, 3, 4, 6], "tickSize": -5, "title": null}},
                   "y": {"field": "r", "type": "quantitative", "scale": {"domain": [-1.33, 1.33], "nice": false, "zero": false}, "axis": {"orient": "left", "values": [-1, 0, 1], "format": "d", "ticks": false, "tickSize": 0, "labels": true, "labelPadding": 5, "title": "res", "titlePadding": 10}}}},
     {"data": {"values": [{}]}, "mark": {"type": "point", "opacity": 0},
      "encoding": {"x": {"datum": 1, "type": "quantitative", "scale": {"type": "log", "domain": [0.5, 7], "nice": false}, "axis": {"orient": "top", "values": [1, 2, 5], "title": null}},
                   "y": {"datum": 0, "type": "quantitative", "scale": {"domain": [-1.33, 1.33], "nice": false, "zero": false}, "axis": {"orient": "right", "values": [-1, 0, 1], "title": null}}}},
     {"data": {"values": [{}]}, "mark": {"type": "point", "opacity": 0},
      "encoding": {"x": {"datum": 1, "type": "quantitative", "scale": {"type": "log", "domain": [0.5, 7], "nice": false}, "axis": {"orient": "top", "values": [0.6, 0.7, 0.8, 0.9, 3, 4, 6], "tickSize": -5, "title": null}},
                   "y": {"datum": 0, "type": "quantitative", "scale": {"domain": [-1.33, 1.33], "nice": false, "zero": false}, "axis": null}}},
     {"data": {"values": [{}]}, "mark": {"type": "point", "opacity": 0},
      "encoding": {"x": {"datum": 1, "type": "quantitative", "scale": {"type": "log", "domain": [0.5, 7], "nice": false}, "axis": {"orient": "bottom", "values": [1, 2, 5], "format": "d", "ticks": false, "tickSize": 0, "labels": true, "labelPadding": 6, "title": "energy (keV)", "titlePadding": 1}},
                   "y": {"datum": 0, "type": "quantitative", "scale": {"domain": [-1.33, 1.33], "nice": false, "zero": false}, "axis": null}}}
    ]},
   {"width": 567, "height": 57, "data": {"name": "d1004"},
    "resolve": {"axis": {"x": "independent", "y": "independent"}},
    "layer": [
     {"data": {"values": [{}]}, "mark": {"type": "rule", "color": "#a0a0a0", "strokeWidth": 2, "strokeDash": [3, 8]},
      "encoding": {"x": {"datum": 0.5, "type": "quantitative", "scale": {"type": "log", "domain": [0.5, 7], "nice": false}, "axis": {"orient": "bottom", "values": [1, 2, 5], "title": null}},
                   "x2": {"datum": 7},
                   "y": {"datum": 0, "type": "quantitative", "scale": {"domain": [-1.33, 1.33], "nice": false, "zero": false}, "axis": {"orient": "left", "values": [-1, 0, 1], "title": null}}}},
     {"mark": {"type": "point", "shape": "square", "size": 42, "color": "black", "strokeWidth": 1.3, "opacity": 1},
      "encoding": {"x": {"field": "E", "type": "quantitative", "scale": {"type": "log", "domain": [0.5, 7], "nice": false}, "axis": {"orient": "bottom", "values": [0.6, 0.7, 0.8, 0.9, 3, 4, 6], "tickSize": -5, "title": null}},
                   "y": {"field": "r", "type": "quantitative", "scale": {"domain": [-1.33, 1.33], "nice": false, "zero": false}, "axis": {"orient": "left", "values": [-1, 0, 1], "format": "d", "ticks": false, "tickSize": 0, "labels": true, "labelPadding": 5, "title": null}}}},
     {"data": {"values": [{}]}, "mark": {"type": "point", "opacity": 0},
      "encoding": {"x": {"datum": 1, "type": "quantitative", "scale": {"type": "log", "domain": [0.5, 7], "nice": false}, "axis": {"orient": "top", "values": [1, 2, 5], "title": null}},
                   "y": {"datum": 0, "type": "quantitative", "scale": {"domain": [-1.33, 1.33], "nice": false, "zero": false}, "axis": {"orient": "right", "values": [-1, 0, 1], "title": null}}}},
     {"data": {"values": [{}]}, "mark": {"type": "point", "opacity": 0},
      "encoding": {"x": {"datum": 1, "type": "quantitative", "scale": {"type": "log", "domain": [0.5, 7], "nice": false}, "axis": {"orient": "top", "values": [0.6, 0.7, 0.8, 0.9, 3, 4, 6], "tickSize": -5, "title": null}},
                   "y": {"datum": 0, "type": "quantitative", "scale": {"domain": [-1.33, 1.33], "nice": false, "zero": false}, "axis": null}}},
     {"data": {"values": [{}]}, "mark": {"type": "point", "opacity": 0},
      "encoding": {"x": {"datum": 1, "type": "quantitative", "scale": {"type": "log", "domain": [0.5, 7], "nice": false}, "axis": {"orient": "bottom", "values": [1, 2, 5], "format": "d", "ticks": false, "tickSize": 0, "labels": true, "labelPadding": 6, "title": "energy (keV)", "titlePadding": 1}},
                   "y": {"datum": 0, "type": "quantitative", "scale": {"domain": [-1.33, 1.33], "nice": false, "zero": false}, "axis": null}}}
    ]}
]
}
